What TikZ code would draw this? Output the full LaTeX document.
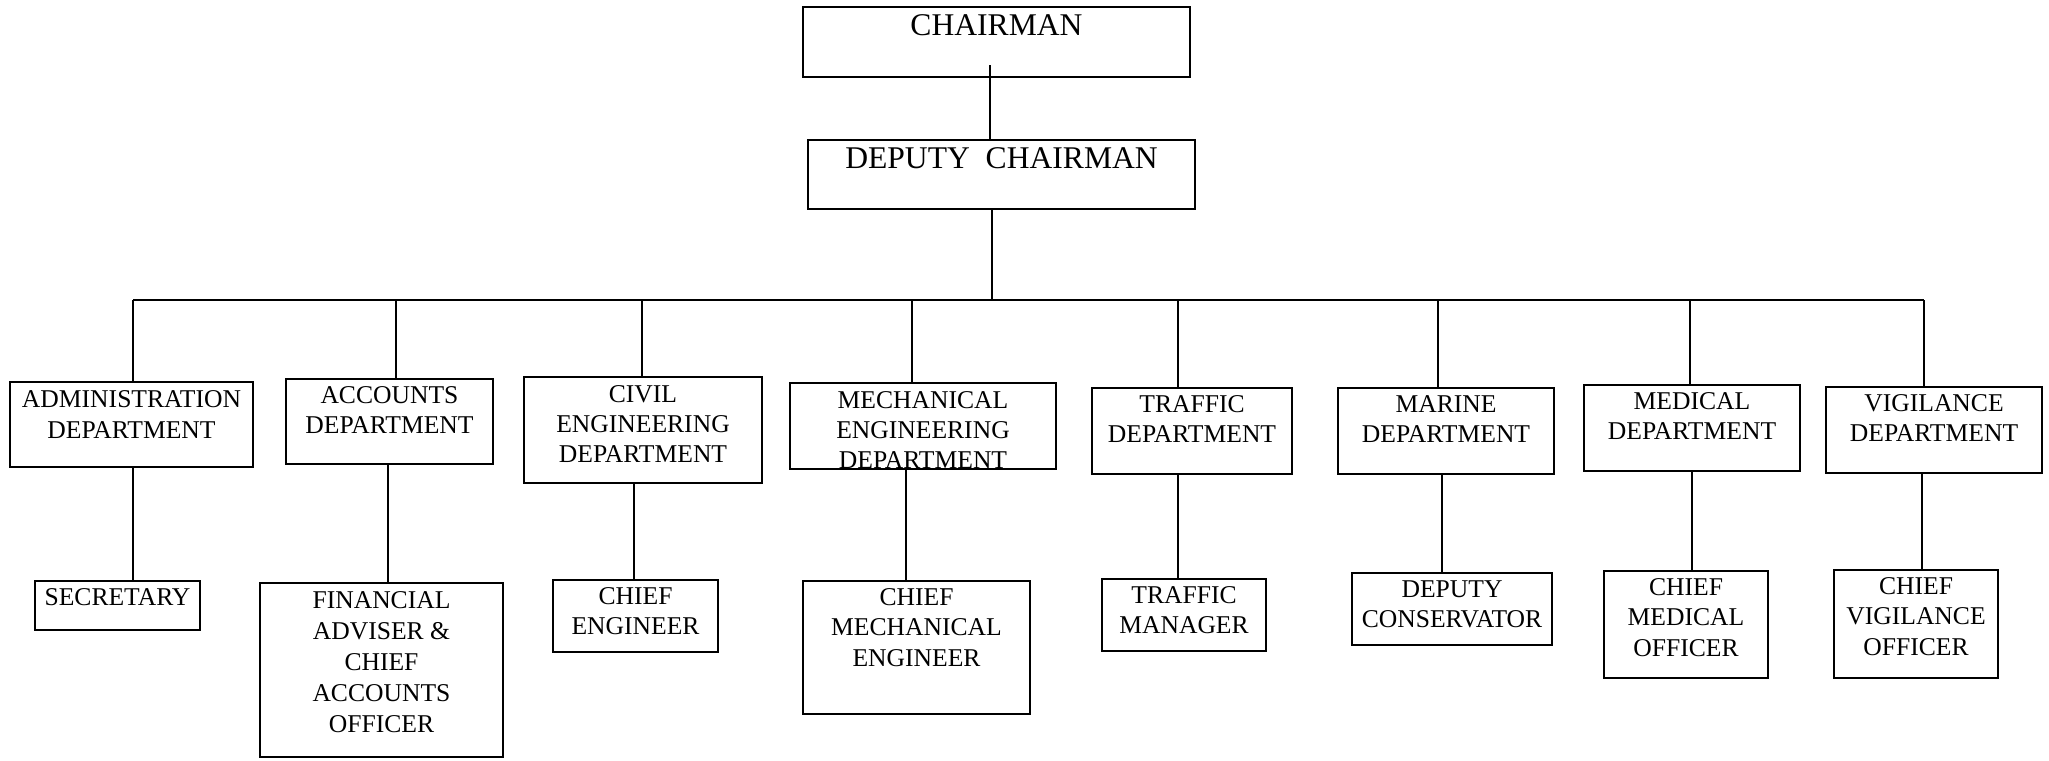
\documentclass[tikz,border=0pt]{standalone}
\usepackage{fontspec}
\setmainfont{Liberation Serif}
\usetikzlibrary{positioning,fit}

\begin{document}
\begin{tikzpicture}[x=0.5pt,y=-0.5pt]
	
	% ------------------------------------------------------------
	% Styles
	% ------------------------------------------------------------
	\tikzset{
		post/.style={draw=black,line width=1pt,inner sep=0pt},
		ptext/.style={inner sep=0pt,align=center,
			font=\fontsize{12.8}{15.2}\selectfont},
		bigtext/.style={inner sep=0pt,align=center,
			font=\fontsize{15.8}{19}\selectfont},
		link/.style={line width=0.8pt}
	}
	
	\useasboundingbox (0,0) rectangle (2049,760);
	
	% ============================================================
	% TOP: chairman and deputy chairman
	% ============================================================
	\node[post,fit={(803,7) (1190,77)}] (chair) {};
	\node[bigtext,below=4.3pt of chair.north] (chair-t) {CHAIRMAN};
	
	\node[post,fit={(808,140) (1195,209)}] (deputy) {};
	\node[bigtext,below=4pt of deputy.north] (deputy-t) {DEPUTY\ \ CHAIRMAN};
	
	% ============================================================
	% MIDDLE: departments
	% ============================================================
	\node[post,fit={(10,382) (253,467)}] (admin) {};
	\node[ptext,below=4.8pt of admin.north] (admin-t) {ADMINISTRATION\\DEPARTMENT};
	
	\node[post,fit={(286,379) (493,464)}] (acct) {};
	\node[ptext,below=4pt of acct.north] (acct-t) {ACCOUNTS\\DEPARTMENT};
	
	\node[post,fit={(524,377) (762,483)}] (civil) {};
	\node[ptext,below=4.4pt of civil.north] (civil-t) {CIVIL\\ENGINEERING\\DEPARTMENT};
	
	\node[post,fit={(790,383) (1056,469)}] (mech) {};
	\begin{scope}
		% text runs past the bottom edge and is cut there
		\clip (mech.south west) rectangle (mech.north east);
		\node[ptext,below=4.4pt of mech.north] (mech-t) {MECHANICAL\\ENGINEERING\\DEPARTMENT};
	\end{scope}
	
	\node[post,fit={(1092,388) (1292,474)}] (traf) {};
	\node[ptext,below=4pt of traf.north] (traf-t) {TRAFFIC\\DEPARTMENT};
	
	\node[post,fit={(1338,388) (1554,474)}] (marine) {};
	\node[ptext,below=4pt of marine.north] (marine-t) {MARINE\\DEPARTMENT};
	
	\node[post,fit={(1584,385) (1800,471)}] (med) {};
	\node[ptext,below=4pt of med.north] (med-t) {MEDICAL\\DEPARTMENT};
	
	\node[post,fit={(1826,387) (2042,473)}] (vig) {};
	\node[ptext,below=4pt of vig.north] (vig-t) {VIGILANCE\\DEPARTMENT};
	
	% ============================================================
	% BOTTOM: heads of departments
	% ============================================================
	\node[post,fit={(35,581) (200,630)}] (secy) {};
	\node[ptext,below=4pt of secy.north] (secy-t) {SECRETARY};
	
	\node[post,fit={(260,583) (503,757)}] (fin) {};
	\node[ptext,below=4.4pt of fin.north,
		font=\fontsize{12.8}{15.6}\selectfont] (fin-t)
		{FINANCIAL\\ADVISER \&\\CHIEF\\ACCOUNTS\\OFFICER};
	
	\node[post,fit={(553,580) (718,652)}] (ce) {};
	\node[ptext,below=4pt of ce.north] (ce-t) {CHIEF\\ENGINEER};
	
	\node[post,fit={(803,581) (1030,714)}] (cme) {};
	\node[ptext,below=4pt of cme.north] (cme-t) {CHIEF\\MECHANICAL\\ENGINEER};
	
	\node[post,fit={(1102,579) (1266,651)}] (tm) {};
	\node[ptext,below=4pt of tm.north] (tm-t) {TRAFFIC\\MANAGER};
	
	\node[post,fit={(1352,573) (1552,645)}] (dc) {};
	\node[ptext,below=4pt of dc.north] (dc-t) {DEPUTY\\CONSERVATOR};
	
	\node[post,fit={(1604,571) (1768,678)}] (cmo) {};
	\node[ptext,below=4pt of cmo.north] (cmo-t) {CHIEF\\MEDICAL\\OFFICER};
	
	\node[post,fit={(1834,570) (1998,678)}] (cvo) {};
	\node[ptext,below=4pt of cvo.north] (cvo-t) {CHIEF\\VIGILANCE\\OFFICER};
	
	% ============================================================
	% Connectors
	% ============================================================
	\coordinate (chair-stem) at (990,65);
	\draw[link] (chair-stem) -- (chair-stem |- deputy.north);
	
	\coordinate (j-deputy) at (992,300);
	\draw[link] (deputy.south -| j-deputy) -- (j-deputy);
	
	% drops from the bus and links to the heads
	\foreach \d/\s/\xu/\xd in {admin/secy/133/133, acct/fin/396/388,
		civil/ce/642/634, mech/cme/912/906, traf/tm/1178/1178,
		marine/dc/1438/1442, med/cmo/1690/1692, vig/cvo/1924/1922}{
		\coordinate (j-\d) at (\xu,300);
		\draw[link] (j-\d) -- (j-\d |- \d.north);
		\draw[link] (\d.south -| \xd,0) -- (\s.north -| \xd,0);
	}
	
	% bus
	\draw[link] (j-admin) -- (j-vig);
	
\end{tikzpicture}
\end{document}
